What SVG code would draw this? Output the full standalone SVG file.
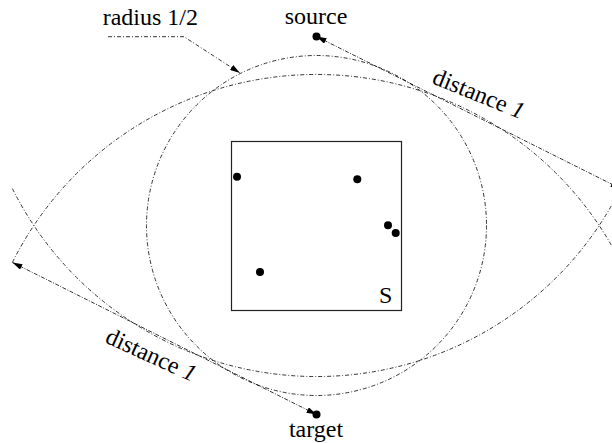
<svg xmlns="http://www.w3.org/2000/svg" width="612" height="443" viewBox="0 0 612 443">
<style>
.dd{fill:none;stroke:#000;stroke-width:0.8;stroke-dasharray:4 2 1 2}
.ar{fill:none;stroke:#000;stroke-width:0.8;stroke-dasharray:4 1.5 1 1.5}
text{font-family:'Liberation Serif','DejaVu Serif',serif;font-size:24px;fill:#000}
.dot{fill:#000}
</style>
<defs>
<marker id="ah" viewBox="0 0 10 6" refX="10" refY="3" markerWidth="10" markerHeight="6" markerUnits="userSpaceOnUse" orient="auto-start-reverse">
<path d="M0,0 L10,3 L0,6 Z" fill="#000"/>
</marker>
</defs>
<rect width="612" height="443" fill="#fff"/>
<g id="box">
<rect x="231.5" y="141.5" width="170" height="169" fill="none" stroke="#222" stroke-width="1.2"/>
<text x="379" y="303" font-family="Liberation Serif, serif">S</text>
<circle class="dot" cx="237" cy="176.7" r="4"/>
<circle class="dot" cx="357.3" cy="179.3" r="4"/>
<circle class="dot" cx="388" cy="225.3" r="4"/>
<circle class="dot" cx="395.7" cy="233" r="4"/>
<circle class="dot" cx="260" cy="272" r="4"/>
</g>
<g id="source">
<circle class="dot" cx="316.5" cy="36.5" r="4"/>
<text x="316" y="24" text-anchor="middle" font-family="Liberation Serif, serif">source</text>
</g>
<g id="target">
<circle class="dot" cx="316.5" cy="414.5" r="4"/>
<text x="316" y="437" text-anchor="middle" font-family="Liberation Serif, serif">target</text>
</g>
<g id="connectors">
<circle class="dd" cx="316.5" cy="225.5" r="170"/>
<path class="dd" d="M12.4,188.6 A340,340 0 0 0 620.6,188.6"/>
<path class="dd" d="M12.4,262.4 A340,340 0 0 1 620.6,262.4"/>
<path class="ar" d="M316.5,36.5 L620.6,188.6" marker-start="url(#ah)" marker-end="url(#ah)"/>
<path class="ar" d="M316.5,414.5 L12.4,262.4" marker-start="url(#ah)" marker-end="url(#ah)"/>
<path class="dd" d="M108,36.7 L184,36.7 L240,73" marker-end="url(#ah)"/>
</g>
<g id="labels">
<text x="102.7" y="25" font-family="Liberation Serif, serif">radius 1/2</text>
<text transform="translate(431,83) rotate(22)" font-family="Liberation Serif, serif">distance <tspan font-style="italic">1</tspan></text>
<text transform="translate(104,342) rotate(24.5)" font-family="Liberation Serif, serif">distance <tspan font-style="italic">1</tspan></text>
</g>
</svg>
